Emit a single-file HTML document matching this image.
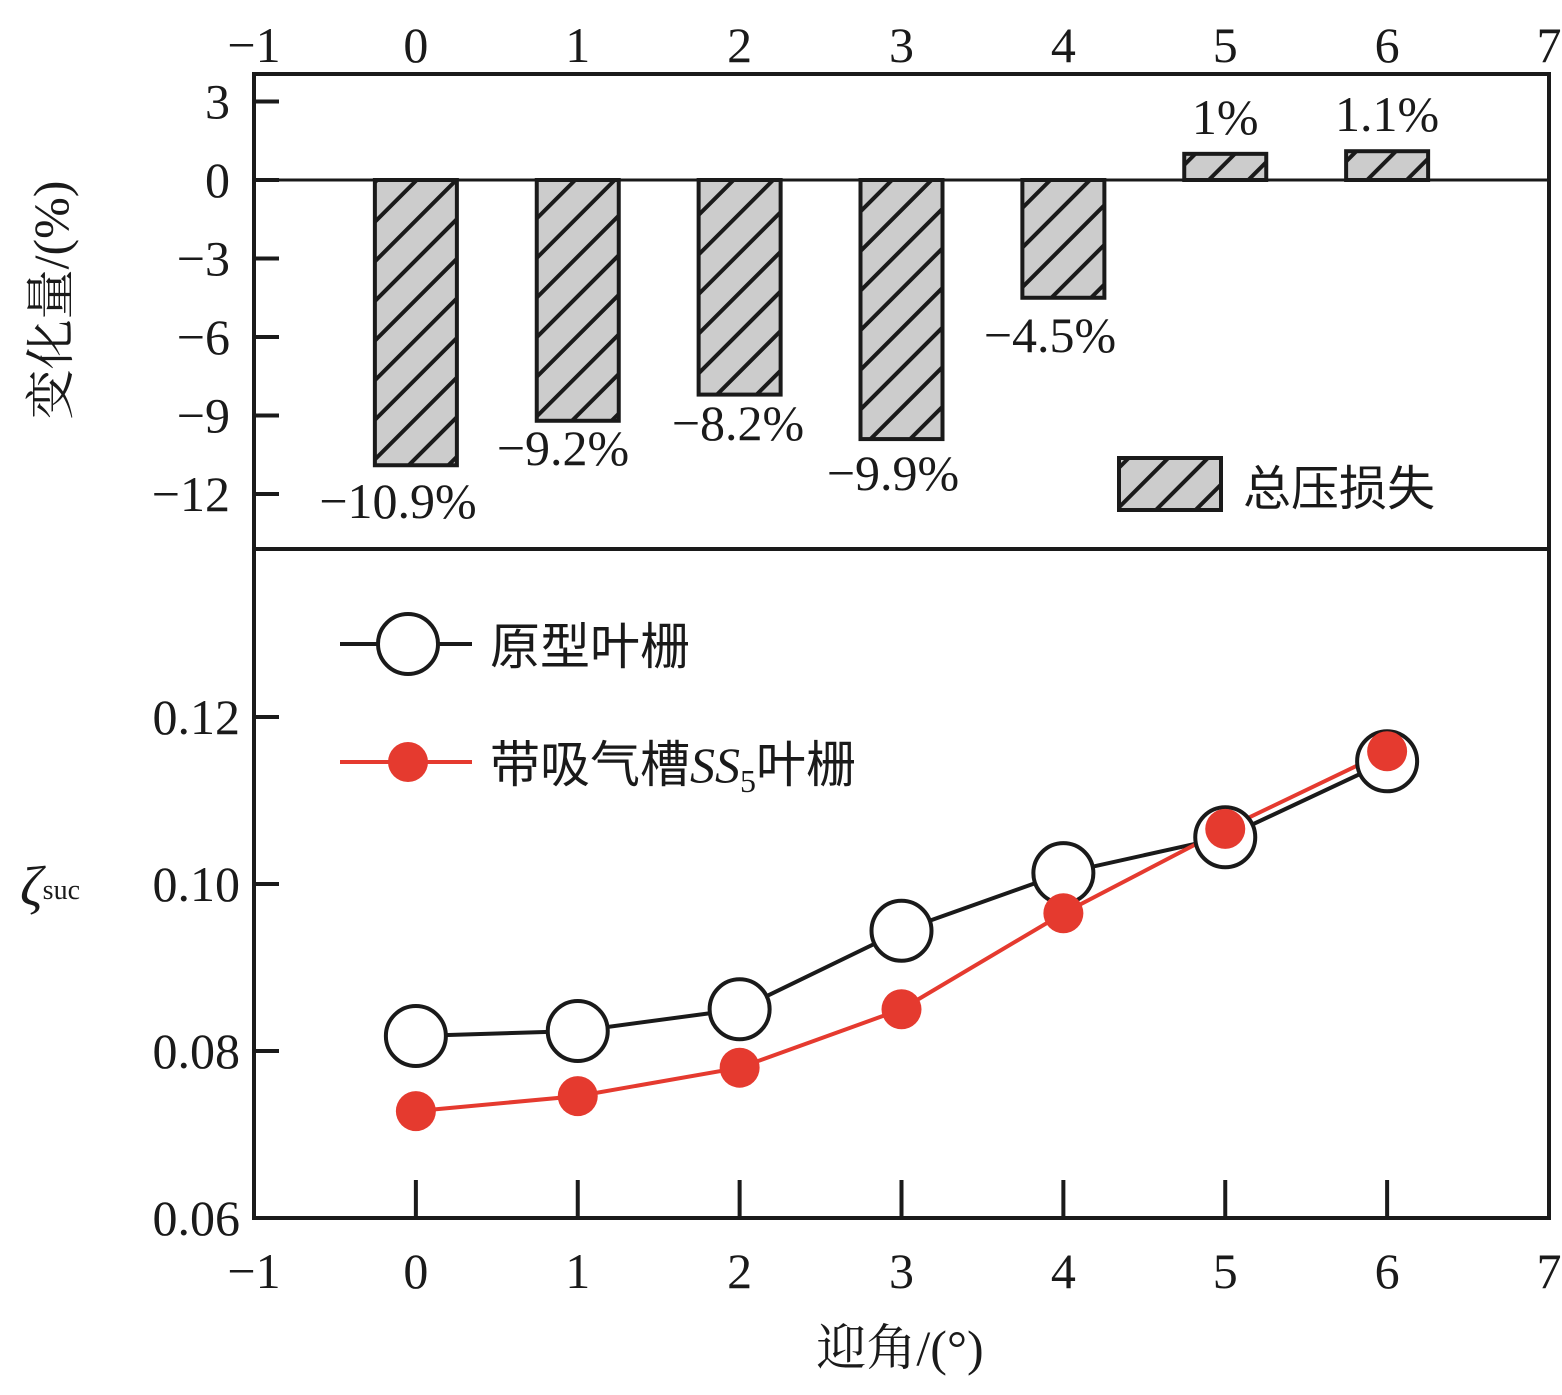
<!DOCTYPE html>
<html><head><meta charset="utf-8"><style>
body{margin:0;background:#fff}
svg text{font-family:"Liberation Serif","Noto Serif CJK SC",serif;fill:#1a1a1a}
</style></head><body>
<svg id="c" width="1562" height="1390" viewBox="0 0 1562 1390" xmlns="http://www.w3.org/2000/svg">
<defs>
<pattern id="hatch" patternUnits="userSpaceOnUse" width="28" height="28" patternTransform="rotate(45)">
<rect width="28" height="28" fill="#cccccc"/>
<line x1="0" y1="0" x2="0" y2="28" stroke="#1a1a1a" stroke-width="8"/>
</pattern>
</defs>
<g id="g"></g>
</svg>
<script>
const categories=[0,1,2,3,4,5,6];
const barValues=[-10.9,-9.2,-8.2,-9.9,-4.5,1.0,1.1];
const barLabels=["\u221210.9%","\u22129.2%","\u22128.2%","\u22129.9%","\u22124.5%","1%","1.1%"];
const origValues=[0.0818,0.0824,0.0850,0.0944,0.1013,0.1056,0.1147];
const ss5Values=[0.0728,0.0746,0.0780,0.0850,0.0965,0.1066,0.1159];
const xTicks=[-1,0,1,2,3,4,5,6,7];
const topYTicks=[3,0,-3,-6,-9,-12];
const botYTicks=[0.06,0.08,0.10,0.12];

const L=254,R=1549,T=74,M=549,B=1218;
const x=v=>L+(v+1)*(R-L)/8;
const yt=v=>180-v*26.17;
const yb=v=>B-(v-0.06)*8350;
const NS="http://www.w3.org/2000/svg";
const g=document.getElementById('g');
function el(t,a,txt){const e=document.createElementNS(NS,t);for(const k in a)e.setAttribute(k,a[k]);if(txt!==undefined)e.textContent=txt;g.appendChild(e);return e;}

// frame
let e=el('rect',{x:L,y:T,width:R-L,height:B-T,fill:'none',stroke:'#1a1a1a','stroke-width':4});


e=el('line',{x1:L,x2:R,y1:M,y2:M,stroke:'#1a1a1a','stroke-width':4});


e=el('line',{x1:L,x2:R,y1:yt(0),y2:yt(0),stroke:'#1a1a1a','stroke-width':3});



// x ticks
xTicks.forEach(v=>{
 e=el('text',{x:x(v),y:62,'font-size':50,'text-anchor':'middle'},v<0?'\u2212'+(-v):v);
 
 
 e=el('text',{x:x(v),y:1288,'font-size':50,'text-anchor':'middle'},v<0?'\u2212'+(-v):v);
 
 
 if(v>-1&&v<7){
  e=el('line',{x1:x(v),x2:x(v),y1:B,y2:B-38,stroke:'#1a1a1a','stroke-width':4});
  
  
 }
});
topYTicks.forEach(v=>{
 e=el('line',{x1:L,x2:L+25,y1:yt(v),y2:yt(v),stroke:'#1a1a1a','stroke-width':4});
 
 
 e=el('text',{x:230,y:yt(v)+17,'font-size':50,'text-anchor':'end'},v<0?'\u2212'+(-v):v);
 
 
});
botYTicks.forEach(v=>{
 e=el('line',{x1:L,x2:L+25,y1:yb(v),y2:yb(v),stroke:'#1a1a1a','stroke-width':4});
 
 
 e=el('text',{x:240,y:yb(v)+17,'font-size':50,'text-anchor':'end'},v.toFixed(2));
 
 
});

// bars
const labelPos=[[398,518],[563,465],[738,440],[893,490],[1050,352],[1227,134],[1392,134]];
categories.forEach((c,i)=>{
 const v=barValues[i];const y0=yt(0),y1=yt(v);
 e=el('rect',{x:x(c)-41,y:Math.min(y0,y1),width:82,height:Math.abs(y1-y0),fill:'url(#hatch)',stroke:'#1a1a1a','stroke-width':4});
 
 
 const lx=v>0?x(c):labelPos[i][0], ly=v>0?yt(v)-20:labelPos[i][1];
 e=el('text',{x:lx,y:ly,'font-size':50,'text-anchor':'middle'},barLabels[i]);
 
 
});
// bar legend
e=el('rect',{x:1119,y:458,width:102,height:52,fill:'url(#hatch)',stroke:'#1a1a1a','stroke-width':4});


e=el('text',{x:1243,y:505,'font-size':48,style:'font-family:"Noto Sans CJK SC",sans-serif'},'总压损失');



// lines
function series(vals,color,name){
 const pts=categories.map((c,i)=>x(c)+','+yb(vals[i])).join(' ');
 e=el('polyline',{points:pts,fill:'none',stroke:color,'stroke-width':4});
 
 
}
series(origValues,'#1a1a1a','original');
series(ss5Values,'#e53a2f','ss5');
categories.forEach((c,i)=>{
 e=el('circle',{cx:x(c),cy:yb(origValues[i]),r:30,fill:'#fff',stroke:'#1a1a1a','stroke-width':4});
 
 
});
categories.forEach((c,i)=>{
 e=el('circle',{cx:x(c),cy:yb(ss5Values[i]),r:20,fill:'#e53a2f'});
 
 
});
// line legend
e=el('line',{x1:340,x2:472,y1:644,y2:644,stroke:'#1a1a1a','stroke-width':4});


e=el('circle',{cx:408,cy:644,r:30,fill:'#fff',stroke:'#1a1a1a','stroke-width':4});


e=el('text',{x:490,y:664,'font-size':50,style:'font-family:"Noto Sans CJK SC",sans-serif'},'原型叶栅');


e=el('line',{x1:340,x2:472,y1:762,y2:762,stroke:'#e53a2f','stroke-width':4});


e=el('circle',{cx:408,cy:762,r:20,fill:'#e53a2f'});


const t=el('text',{x:490,y:782,'font-size':50});


t.innerHTML='<tspan style="font-family:\'Noto Sans CJK SC\',sans-serif">带吸气槽</tspan><tspan font-style="italic">SS</tspan><tspan font-size="32" dy="10">5</tspan><tspan dy="-10" style="font-family:\'Noto Sans CJK SC\',sans-serif">叶栅</tspan>';

// axis titles
e=el('text',{x:0,y:0,'font-size':50,'text-anchor':'middle',transform:'translate(68,300) rotate(-90)'},'变化量/(%)');


const yt2=el('text',{x:20,y:905,'font-size':56,'font-style':'italic'});


yt2.innerHTML='ζ<tspan font-size="28" font-style="normal" dy="-6">suc</tspan>';
e=el('text',{x:900,y:1365,'font-size':50,'text-anchor':'middle'},'迎角/(°)');


</script>
</body></html>
